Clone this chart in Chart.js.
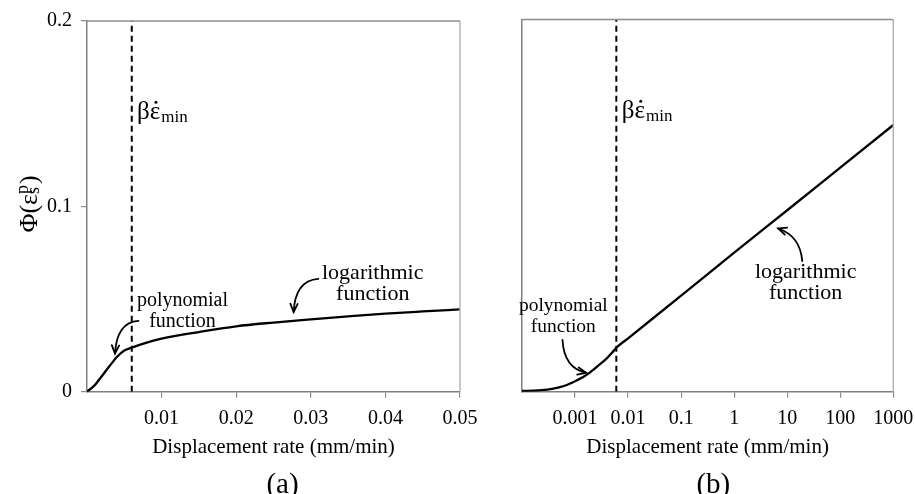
<!DOCTYPE html>
<html>
<head>
<meta charset="utf-8">
<title>Displacement rate</title>
<script src="https://cdn.jsdelivr.net/npm/chart.js@4.4.0/dist/chart.umd.min.js"></script>
<style>
  html, body { margin: 0; padding: 0; background: #fff; }
  #wrap { position: relative; width: 915px; height: 494px; overflow: hidden; }
  #chartA { position: absolute; left: 0; top: 0; }
  #chartB { position: absolute; left: 490px; top: 0; }
</style>
</head>
<body>
<div id="wrap">
  <canvas id="chartA" width="490" height="494"></canvas>
  <canvas id="chartB" width="445" height="494"></canvas>
</div>
<script>
// --- Data ---
// (a) linear rate axis
const rateA = [0, 0.001, 0.002, 0.003, 0.004, 0.005, 0.006, 0.008, 0.01, 0.015, 0.02, 0.025, 0.03, 0.035, 0.04, 0.045, 0.05];
const phiA  = [0, 0.0033, 0.0085, 0.0137, 0.0187, 0.0222, 0.0238, 0.0265, 0.0286, 0.0322, 0.0353, 0.0373, 0.0390, 0.0406, 0.0421, 0.0433, 0.0444];
// (b) log rate axis
const rateB = [0.0001, 0.0002, 0.0003, 0.0005, 0.0007, 0.001, 0.0015, 0.002, 0.003, 0.004, 0.005, 0.006, 0.01, 0.1, 1, 10, 100, 1000];
const phiB  = [0.0004, 0.0007, 0.0011, 0.0023, 0.0036, 0.0056, 0.0083, 0.0108, 0.0150, 0.0180, 0.0210, 0.0236, 0.0287, 0.0516, 0.0747, 0.0975, 0.1204, 0.1433];

const betaEpsMin = 0.006;   // dashed limit line

const ticksA  = [0, 0.01, 0.02, 0.03, 0.04, 0.05];
const labelsA = ['', '0.01', '0.02', '0.03', '0.04', '0.05'];
const ticksB  = [0.001, 0.01, 0.1, 1, 10, 100, 1000];
const labelsB = ['0.001', '0.01', '0.1', '1', '10', '100', '1000'];
const ticksY  = [0, 0.1, 0.2];
const labelsY = ['0', '0.1', '0.2'];

const SERIF = '"Liberation Serif", "Times New Roman", "DejaVu Serif", serif';
Chart.defaults.font.family = SERIF;
Chart.defaults.color = '#000';

// --- Helpers ---
function toPoints(xs, ys) {
    return xs.map((x, i) => ({ x: x, y: ys[i] }));
}

function drawArrow(ctx, p0, c, p1) {
    ctx.beginPath();
    ctx.moveTo(p0.x, p0.y);
    ctx.quadraticCurveTo(c.x, c.y, p1.x, p1.y);
    ctx.stroke();
    const ang = Math.atan2(p1.y - c.y, p1.x - c.x);
    const len = 9, spread = 0.42;
    ctx.beginPath();
    ctx.moveTo(p1.x - len * Math.cos(ang - spread), p1.y - len * Math.sin(ang - spread));
    ctx.lineTo(p1.x, p1.y);
    ctx.lineTo(p1.x - len * Math.cos(ang + spread), p1.y - len * Math.sin(ang + spread));
    ctx.stroke();
}

// frame (top/right edges), notes, arrows and panel letter
const notesPlugin = {
    id: 'notes',
    afterDraw(chart, args, opts) {
        const ctx = chart.ctx;
        const area = chart.chartArea;
        const sx = chart.scales.x, sy = chart.scales.y;
        const P = (x, y) => ({ x: sx.getPixelForValue(x), y: sy.getPixelForValue(y) });
        ctx.save();

        // box edges
        ctx.lineWidth = 1.5;
        ctx.strokeStyle = '#8c8c8c';
        ctx.beginPath();
        ctx.moveTo(area.left, area.top);
        ctx.lineTo(area.right, area.top);
        ctx.stroke();
        ctx.strokeStyle = '#b4b4b4';
        ctx.beginPath();
        ctx.moveTo(area.right, area.top);
        ctx.lineTo(area.right, area.bottom);
        ctx.stroke();

        ctx.fillStyle = '#000';
        ctx.strokeStyle = '#000';

        // beta * eps_dot_min label
        const b = P(opts.beta.x, opts.beta.y);
        ctx.textBaseline = 'alphabetic';
        ctx.textAlign = 'left';
        ctx.font = '25px ' + SERIF;
        const wB = ctx.measureText('β').width;
        const wE = ctx.measureText('ε').width;
        ctx.fillText('βε', b.x, b.y);
        ctx.beginPath();
        ctx.arc(b.x + wB + wE / 2 + 1, b.y - 17, 1.5, 0, Math.PI * 2);
        ctx.fill();
        ctx.font = '17px ' + SERIF;
        ctx.fillText('min', b.x + wB + wE + 1, b.y + 3);

        // two-line notes
        ctx.textAlign = 'center';
        opts.notes.forEach(n => {
            const p = P(n.x, n.y);
            ctx.font = n.size + 'px ' + SERIF;
            n.lines.forEach((t, i) => ctx.fillText(t, p.x, p.y + i * 21));
        });

        // curved arrows
        ctx.lineWidth = 1.8;
        ctx.lineCap = 'round';
        opts.arrows.forEach(a => drawArrow(ctx, P(a[0][0], a[0][1]), P(a[1][0], a[1][1]), P(a[2][0], a[2][1])));

        // panel letter
        ctx.font = '29px ' + SERIF;
        ctx.fillText(opts.letter, area.left + opts.letterDx, 493);

        // y title with stacked sub/superscript
        if (opts.yTitle) {
            ctx.translate(28, 204);
            ctx.rotate(-Math.PI / 2);
            ctx.textAlign = 'left';
            const big = '26px ' + SERIF, small = '18px ' + SERIF;
            ctx.font = big;
            const w1 = ctx.measureText('Φ(ε').width;
            const w3 = ctx.measureText(')').width;
            ctx.font = small;
            const w2 = Math.max(ctx.measureText('s').width, ctx.measureText('p').width);
            let x = -(w1 + w2 + 1 + w3) / 2;
            ctx.font = big;
            ctx.fillText('Φ(ε', x, 9);
            x += w1;
            ctx.font = small;
            ctx.fillText('s', x, 11);
            ctx.fillText('p', x, 0);
            x += w2 + 1;
            ctx.font = big;
            ctx.fillText(')', x, 9);
        }
        ctx.restore();
    }
};

function makeOptions(xScale, yWidth, padRight, notes) {
    return {
        responsive: false,
        animation: false,
        devicePixelRatio: 1,
        layout: { padding: { top: 19.5, right: padRight, bottom: 27, left: 0 } },
        plugins: {
            legend: { display: false },
            tooltip: { enabled: false },
            notes: notes
        },
        scales: {
            x: xScale,
            y: {
                type: 'linear',
                min: 0,
                max: 0.2,
                afterBuildTicks: s => { s.ticks = ticksY.map(v => ({ value: v })); },
                afterFit: s => { s.width = yWidth; },
                ticks: {
                    display: notes.yTitle,
                    padding: 9,
                    font: { size: 20 },
                    color: '#000',
                    callback: (v, i) => labelsY[i]
                },
                grid: { drawOnChartArea: false, drawTicks: notes.yTitle, tickLength: 6, color: '#8c8c8c', lineWidth: 1.2 },
                border: { display: true, color: '#808080', width: 1.5 }
            }
        }
    };
}

function xAxisBase() {
    return {
        afterFit: s => { s.height = 494 - 27 - 391.7; },
        ticks: {
            autoSkip: false,
            maxRotation: 0,
            padding: 9.5,
            font: { size: 20 },
            color: '#000'
        },
        grid: {
            drawOnChartArea: false,
            tickLength: 6,
            lineWidth: 1.2,
            color: c => (c.tick && c.tick.value === 0 ? 'rgba(0,0,0,0)' : '#8c8c8c')
        },
        border: { display: true, color: '#808080', width: 1.5 },
        title: {
            display: true,
            text: 'Displacement rate (mm/min)',
            font: { size: 21 },
            color: '#000',
            padding: { top: 0, bottom: 7 }
        }
    };
}

function datasets(xs, ys) {
    return [
        {
            data: toPoints(xs, ys),
            borderColor: '#000',
            borderWidth: 2.3,
            pointRadius: 0,
            cubicInterpolationMode: 'monotone',
            fill: false
        },
        {
            data: [{ x: betaEpsMin, y: 0 }, { x: betaEpsMin, y: 0.2 }],
            borderColor: '#000',
            borderWidth: 2,
            borderDash: [6, 4],
            pointRadius: 0,
            fill: false
        }
    ];
}

// --- (a) ---
const xA = xAxisBase();
xA.type = 'linear';
xA.min = 0;
xA.max = 0.05;
xA.afterBuildTicks = s => { s.ticks = ticksA.map(v => ({ value: v })); };
xA.ticks.callback = (v, i) => labelsA[i];

new Chart(document.getElementById('chartA'), {
    type: 'line',
    data: { datasets: datasets(rateA, phiA) },
    options: makeOptions(xA, 87, 30, {
        yTitle: true,
        letter: '(a)',
        letterDx: 195.5,
        beta: { x: 0.0067, y: 0.147 },
        notes: [
            { x: 0.0128, y: 0.0463, size: 20, lines: ['polynomial', 'function'] },
            { x: 0.0383, y: 0.0609, size: 22, lines: ['logarithmic', 'function'] }
        ],
        arrows: [
            [[0.0069, 0.0382], [0.0040, 0.0375], [0.00375, 0.0206]],
            [[0.0310, 0.0609], [0.0279, 0.0600], [0.0277, 0.0430]]
        ]
    }),
    plugins: [notesPlugin]
});

// --- (b) ---
const xB = xAxisBase();
xB.type = 'logarithmic';
xB.min = 0.0001;
xB.max = 1000;
xB.afterBuildTicks = s => { s.ticks = ticksB.map(v => ({ value: v })); };
xB.ticks.callback = (v, i) => labelsB[i];

new Chart(document.getElementById('chartB'), {
    type: 'line',
    data: { datasets: datasets(rateB, phiB) },
    options: makeOptions(xB, 32, 41.7, {
        yTitle: false,
        letter: '(b)',
        letterDx: 191.3,
        beta: { x: 0.0076, y: 0.147 },
        notes: [
            { x: 0.000601, y: 0.0435, size: 19.5, lines: ['polynomial', 'function'] },
            { x: 22.3, y: 0.0609, size: 22, lines: ['logarithmic', 'function'] }
        ],
        arrows: [
            [[0.00058, 0.0278], [0.00062, 0.0127], [0.00161, 0.0102]],
            [[19.2, 0.0702], [17.6, 0.0837], [6.76, 0.0877]]
        ]
    }),
    plugins: [notesPlugin]
});
</script>
</body>
</html>
